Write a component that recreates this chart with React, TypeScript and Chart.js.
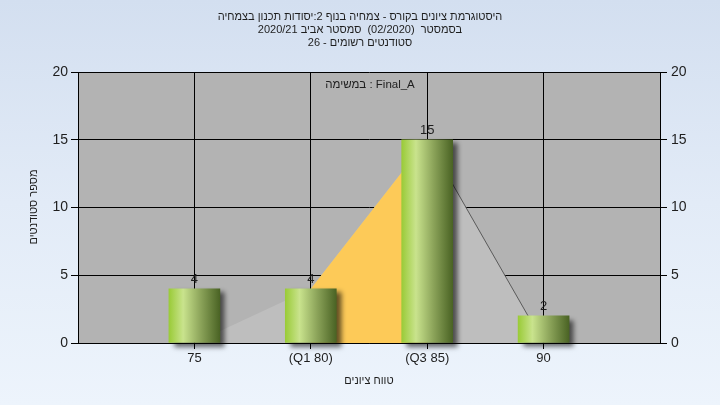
import React, { useEffect, useRef } from 'react';
import { Chart, registerables } from 'chart.js';

Chart.register(...registerables);

// ---- data ----
const categories = [75, 80, 85, 90];
const tickLabels = ['75', '(Q1 80)', '(Q3 85)', '90'];
const counts = [4, 4, 15, 2];
const curveX = [75, 80, 85, 90];
const curveY = [0, 4, 15, 0];
const quartileX = [80, 85];
const quartileY = [4, 15];
const yTicks = [0, 5, 10, 15, 20];
const titleLines = [
  'היסטוגרמת ציונים בקורס - צמחיה בנוף 2:יסודות תכנון בצמחיה',
  'בסמסטר  (02/2020)  סמסטר אביב 2020/21',
  'סטודנטים רשומים - 26',
];
const legendText = 'במשימה : Final_A';
const xTitle = 'טווח ציונים';
const yTitle = 'מספר סטודנטים';

const FONT = "'Liberation Sans', Arial, sans-serif";
const TEXT = '#1e1e1e';

const decorPlugin = {
  id: 'decor',
  beforeDraw(chart: any) {
    const { ctx, chartArea } = chart;
    ctx.save();
    ctx.fillStyle = '#B3B3B3';
    ctx.fillRect(chartArea.left, chartArea.top, chartArea.right - chartArea.left, chartArea.bottom - chartArea.top);
    ctx.restore();
  },
  beforeDatasetDraw(chart: any, args: any) {
    if (args.index === 0) {
      const ctx = chart.ctx;
      ctx.save();
      ctx.shadowColor = 'rgba(0,0,0,0.6)';
      ctx.shadowOffsetX = 5;
      ctx.shadowOffsetY = 4;
      ctx.shadowBlur = 5;
    }
  },
  afterDatasetDraw(chart: any, args: any) {
    if (args.index === 0) {
      chart.ctx.restore();
    }
  },
  afterDraw(chart: any) {
    const { ctx, chartArea } = chart;
    ctx.save();
    ctx.fillStyle = TEXT;
    ctx.textAlign = 'center';
    ctx.textBaseline = 'middle';
    // title (right-to-left)
    ctx.direction = 'rtl';
    ctx.font = `11px ${FONT}`;
    titleLines.forEach((t, i) => ctx.fillText(t, 360, 17 + i * 13));
    // x title
    ctx.fillText(xTitle, (chartArea.left + chartArea.right) / 2, 381);
    // y title
    ctx.save();
    ctx.translate(34, 207);
    ctx.rotate(-Math.PI / 2);
    ctx.fillText(yTitle, 0, 0);
    ctx.restore();
    // legend
    ctx.direction = 'ltr';
    ctx.font = `11.5px ${FONT}`;
    ctx.fillText(legendText, 370, 85);
    // value labels
    ctx.font = `13px ${FONT}`;
    ctx.textBaseline = 'bottom';
    const meta = chart.getDatasetMeta(0);
    meta.data.forEach((el: any, i: number) => {
      ctx.fillText(String(counts[i]), el.x, el.y - 3);
    });
    ctx.restore();
  },
};

export default function App() {
  const ref = useRef<HTMLCanvasElement | null>(null);

  useEffect(() => {
    if (!ref.current) return;
    const barGradient = (c: any) => {
      const chart = c.chart;
      const xs = chart.scales?.x;
      if (!xs || c.dataIndex === undefined) return '#8FB04A';
      const cx = xs.getPixelForValue(categories[c.dataIndex]);
      if (!isFinite(cx)) return '#8FB04A';
      const g = chart.ctx.createLinearGradient(cx - 25.5, 0, cx + 25.5, 0);
      g.addColorStop(0, '#9ACB38');
      g.addColorStop(0.28, '#C9E38D');
      g.addColorStop(0.62, '#8CA45A');
      g.addColorStop(1, '#4A6324');
      return g;
    };

    const chart = new Chart(ref.current, {
      type: 'bar',
      data: {
        datasets: [
          {
            type: 'bar',
            data: categories.map((x, i) => ({ x, y: counts[i] })),
            backgroundColor: barGradient,
            borderWidth: 0,
            barThickness: 51,
            order: 0,
            clip: false as any,
          } as any,
          {
            type: 'line',
            data: quartileX.map((x, i) => ({ x, y: quartileY[i] })),
            backgroundColor: '#FDCA58',
            borderColor: 'transparent',
            borderWidth: 0,
            pointRadius: 0,
            fill: 'origin',
            order: 1,
          } as any,
          {
            type: 'line',
            data: curveX.map((x, i) => ({ x, y: curveY[i] })),
            backgroundColor: '#BEBEBE',
            borderColor: '#5a5a5a',
            borderWidth: 1,
            pointRadius: 0,
            fill: 'origin',
            order: 2,
            segment: {
              borderColor: (s: any) => (s.p0DataIndex === 2 ? '#5a5a5a' : 'rgba(0,0,0,0)'),
            },
          } as any,
        ],
      },
      options: {
        animation: false,
        responsive: false,
        maintainAspectRatio: false,
        layout: { padding: { top: 72, left: 0, right: 0, bottom: 0 } },
        plugins: { legend: { display: false }, tooltip: { enabled: false }, title: { display: false } },
        scales: {
          x: {
            type: 'linear',
            min: 70,
            max: 95,
            offset: false,
            afterBuildTicks: (s: any) => {
              s.ticks = categories.map((v) => ({ value: v }));
            },
            afterFit: (s: any) => {
              s.height = 62;
            },
            ticks: {
              callback: (v: any) => {
                const i = categories.indexOf(Number(v));
                return i >= 0 ? tickLabels[i] : '';
              },
              color: TEXT,
              font: { family: FONT, size: 13 },
              padding: 2,
              maxRotation: 0,
              autoSkip: false,
            },
            grid: { color: '#000', lineWidth: 1, tickLength: 6, offset: false, drawOnChartArea: true },
            border: { color: '#000', width: 1 },
          },
          y: {
            position: 'left',
            min: 0,
            max: 20,
            afterBuildTicks: (s: any) => {
              s.ticks = yTicks.map((v) => ({ value: v }));
            },
            afterFit: (s: any) => {
              s.width = 78;
            },
            ticks: { color: TEXT, font: { family: FONT, size: 14 }, padding: 3 },
            grid: { color: '#000', lineWidth: 1, tickLength: 7 },
            border: { color: '#000', width: 1 },
          },
          y2: {
            position: 'right',
            min: 0,
            max: 20,
            afterBuildTicks: (s: any) => {
              s.ticks = yTicks.map((v) => ({ value: v }));
            },
            afterFit: (s: any) => {
              s.width = 60;
            },
            ticks: { color: TEXT, font: { family: FONT, size: 14 }, padding: 4 },
            grid: { color: '#000', lineWidth: 1, tickLength: 7, drawOnChartArea: false },
            border: { color: '#000', width: 1 },
          },
        },
      } as any,
      plugins: [decorPlugin],
    });
    return () => chart.destroy();
  }, []);

  return (
    <div
      style={{
        position: 'fixed',
        left: 0,
        top: 0,
        width: 720,
        height: 405,
        background: 'linear-gradient(to bottom, #D3DFF0 0%, #E2EBF7 50%, #EDF4FC 100%)',
      }}
    >
      <canvas ref={ref} width={720} height={405} style={{ display: 'block' }} />
    </div>
  );
}
